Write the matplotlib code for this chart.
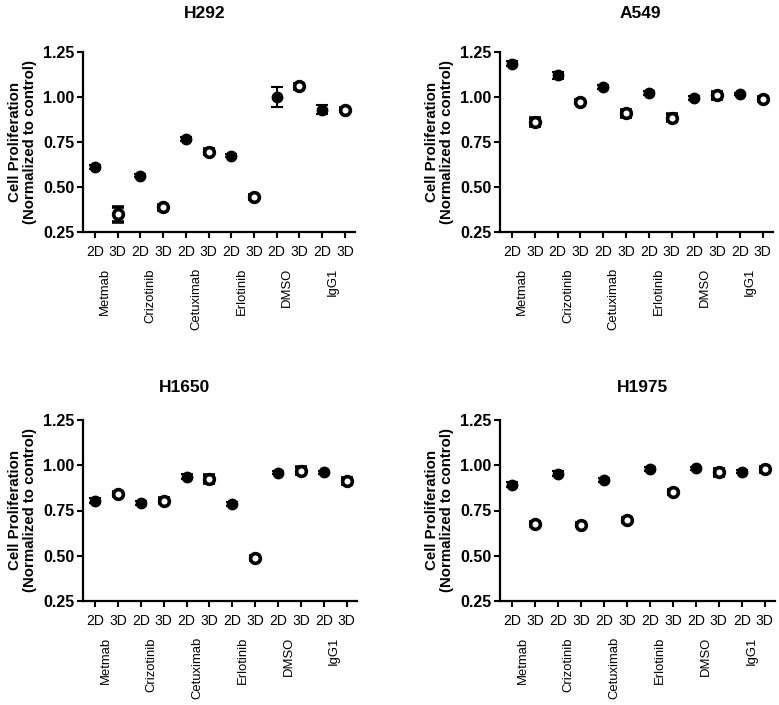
import matplotlib
matplotlib.use("Agg")
import matplotlib.pyplot as plt
import numpy as np

plt.rcParams['font.family'] = ['Liberation Sans', 'DejaVu Sans']

treatments = ["Metmab", "Crizotinib", "Cetuximab", "Erlotinib", "DMSO", "IgG1"]
conditions = ["2D", "3D"]

titles = ["H292", "A549", "H1650", "H1975"]

# values ordered: treatment x (2D, 3D)
h292_mean = [0.613, 0.348, 0.563, 0.387, 0.765, 0.697, 0.674, 0.443, 1.000, 1.059, 0.929, 0.930]
h292_err  = [0.012, 0.040, 0.010, 0.015, 0.012, 0.012, 0.010, 0.012, 0.054, 0.015, 0.025, 0.010]

a549_mean = [1.186, 0.861, 1.120, 0.974, 1.054, 0.910, 1.022, 0.885, 0.993, 1.010, 1.017, 0.990]
a549_err  = [0.012, 0.020, 0.020, 0.010, 0.012, 0.020, 0.010, 0.020, 0.012, 0.020, 0.008, 0.010]

h1650_mean = [0.805, 0.840, 0.793, 0.805, 0.937, 0.924, 0.787, 0.487, 0.959, 0.970, 0.960, 0.912]
h1650_err  = [0.012, 0.012, 0.010, 0.015, 0.015, 0.020, 0.010, 0.010, 0.010, 0.018, 0.010, 0.018]

h1975_mean = [0.893, 0.677, 0.953, 0.672, 0.917, 0.697, 0.978, 0.853, 0.983, 0.962, 0.965, 0.977]
h1975_err  = [0.012, 0.010, 0.015, 0.010, 0.010, 0.010, 0.010, 0.012, 0.010, 0.020, 0.010, 0.012]

means = [h292_mean, a549_mean, h1650_mean, h1975_mean]
errs = [h292_err, a549_err, h1650_err, h1975_err]

yticks = [0.25, 0.50, 0.75, 1.00, 1.25]

W, H = 779, 705
fig = plt.figure(figsize=(W / 100, H / 100), dpi=100)

# axes boxes in pixels: (left, top, right, bottom)
boxes = [(83, 52, 355, 232), (500, 52, 773, 232), (83, 420, 357, 601), (500, 420, 775, 601)]
title_pos = [(205, 13), (640, 13), (185, 387), (642, 387)]

for i in range(4):
    l, t, r, b = boxes[i]
    ax = fig.add_axes([l / W, 1 - b / H, (r - l) / W, (b - t) / H])
    n = len(treatments) * len(conditions)
    x = np.arange(n)
    m = np.array(means[i])
    e = np.array(errs[i])
    is2d = np.array([k % 2 == 0 for k in range(n)])
    ax.errorbar(x[is2d], m[is2d], yerr=e[is2d], fmt='o', color='black',
                ms=7.5, mfc='black', mec='black', ecolor='black', elinewidth=1.5,
                capsize=4, capthick=1.5, clip_on=False, zorder=3)
    ax.errorbar(x[~is2d], m[~is2d], yerr=e[~is2d], fmt='o', color='black',
                ms=7, mfc='white', mec='black', mew=2.6, ecolor='black', elinewidth=1.5,
                capsize=4, capthick=1.5, clip_on=False, zorder=3)
    ax.set_ylim(0.25, 1.25)
    ax.set_xlim(-0.53, 11.45)
    ax.set_yticks(yticks)
    ax.set_yticklabels(["%.2f" % v for v in yticks], fontweight='bold', fontsize=11.5)
    ax.set_xticks(x)
    ax.set_xticklabels([conditions[k % 2] for k in range(n)], fontsize=10)
    for s in ['top', 'right']:
        ax.spines[s].set_visible(False)
    for s in ['left', 'bottom']:
        ax.spines[s].set_linewidth(1.6)
    ax.tick_params(axis='both', direction='out', length=4.3, width=1.5)
    ax.tick_params(axis='y', pad=2)
    ax.tick_params(axis='x', pad=5)
    ax.set_ylabel("Cell Proliferation\n(Normalized to control)", fontweight='bold',
                  fontsize=10.8, linespacing=1.1)
    ax.yaxis.set_label_coords(-46 / (r - l), 0.5)
    for j, tr in enumerate(treatments):
        ax.annotate(tr, xy=(2 * j + 0.45, 0), xycoords=('data', 'axes fraction'),
                    xytext=(0, -26), textcoords='offset points',
                    rotation=90, ha='center', va='top', fontsize=9.4)
    tx, ty = title_pos[i]
    fig.text(tx / W, 1 - ty / H, titles[i], ha='center', va='center',
             fontweight='bold', fontsize=12.5)

fig.savefig("out.png", dpi=100)
